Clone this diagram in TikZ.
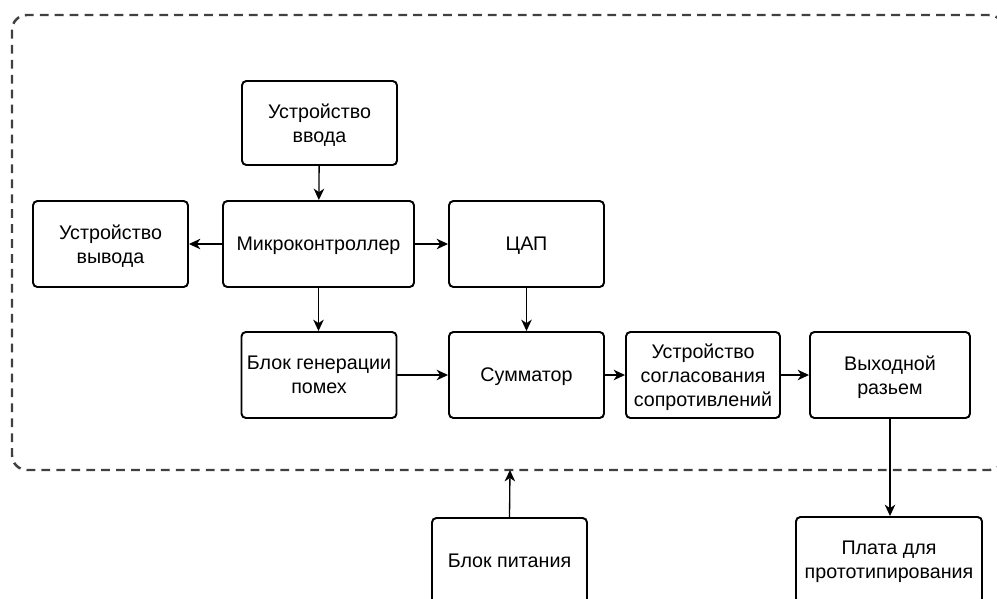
\documentclass[tikz,border=0pt]{standalone}
\usepackage{fontspec}
\setmainfont{Liberation Sans}
\usepackage{tikz}
\usetikzlibrary{positioning, arrows.meta, calc}

\tikzset{
    block/.style={draw, line width=1.1pt, rounded corners=2.5pt, align=center,
        minimum width=31mm, minimum height=17.2mm, inner sep=0pt, text depth=0pt,
        font=\fontsize{11.2}{13.6}\selectfont},
    link/.style={-{Stealth[length=6.5pt, width=6pt, inset=2pt]}, line width=0.75pt},
    frame/.style={draw=black!75, line width=1.4pt, dash pattern=on 5pt off 3.5pt, rounded corners=8.5pt}
}

\begin{document}
\begin{tikzpicture}[x=0.2mm, y=-0.2mm]
    \useasboundingbox (0,0) rectangle (997,598);
    \clip (0,0) rectangle (997,598);

    % Frame
    \draw[frame] (12,15) rectangle (1004,470);
    \coordinate (frameb) at (510,470);

    % Blocks
    \node[block, minimum height=16.8mm] (vvod) at (319.5,123) {Устройство\\ввода};
    \node[block, minimum width=38.2mm] (mk) at (318.5,244) {Микроконтроллер};
    \node[block] (vyvod) at (110.5,244) {Устройство\\вывода};
    \node[block] (cap) at (526.5,244) {ЦАП};
    \node[block] (pomeh) at (319,375) {Блок генерации\\помех};
    \node[block] (summ) at (526.5,375) {Сумматор};
    \node[block, minimum width=30.8mm] (sogl) at (703,375) {Устройство\\согласования\\сопротивлений};
    \node[block, minimum width=32mm] (vyh) at (890,375) {Выходной\\разьем};
    \node[block] (pit) at (509.5,561) {Блок питания};
    \node[block, minimum width=37.2mm] (plata) at (889,560) {Плата для\\прототипирования};

    % Links
    \draw[link] (vvod) -- (mk);
    \draw[link] (mk) -- (vyvod);
    \draw[link] (mk) -- (cap);
    \draw[link] (mk) -- (mk |- pomeh.north);
    \draw[link] (cap) -- (summ);
    \draw[link] (pomeh) -- (summ);
    \draw[link] (summ) -- (sogl);
    \draw[link] (sogl) -- (vyh);
    \draw[link] (vyh.south) -- (vyh.south |- plata.north);
    \draw[link] (pit.north) -- (frameb);
\end{tikzpicture}
\end{document}
